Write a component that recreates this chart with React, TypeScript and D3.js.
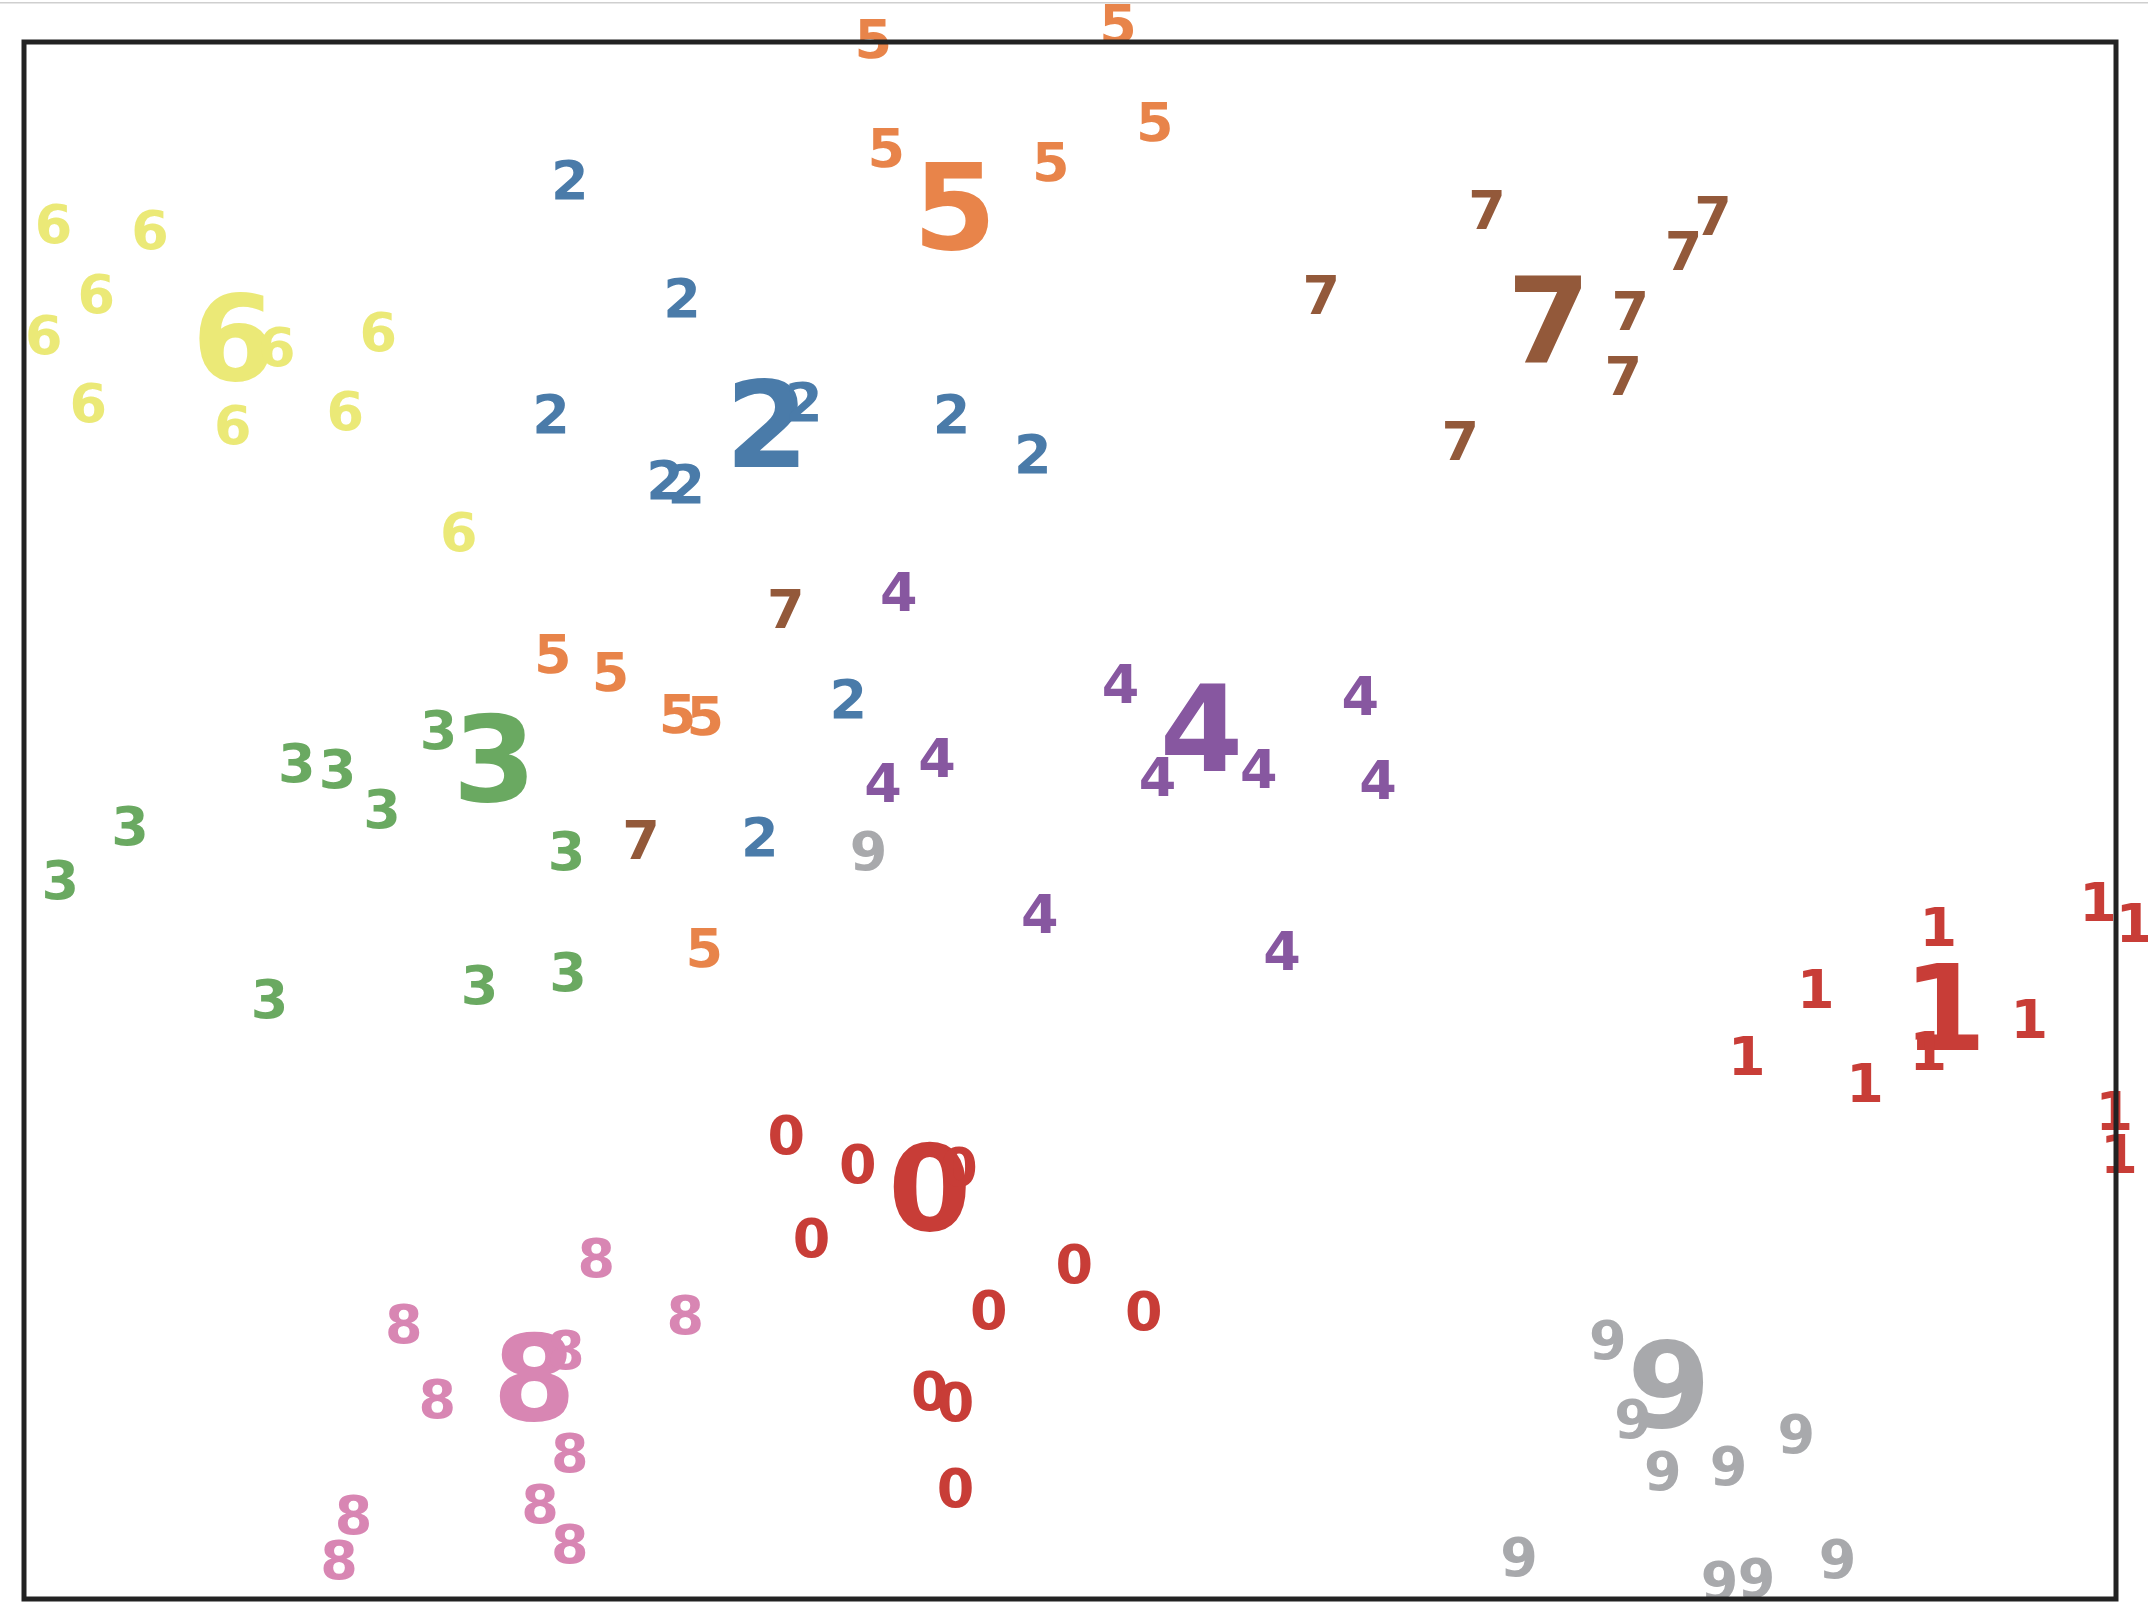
import React from 'react'
import * as d3 from 'd3'

// 2-D embedding of handwritten digits, coordinates scaled to [0, 1]
const digitClasses = ['0', '1', '2', '3', '4', '5', '6', '7', '8', '9']
const classColors = ['#c83d37', '#c83d37', '#4a7ba9', '#6aa961', '#8757a0', '#e8844a', '#ebe977', '#93593a', '#d886b3', '#a8a9ac']

const zeros = [[0.3644, 0.2981], [0.3986, 0.2799], [0.4469, 0.2777], [0.3764, 0.2324], [0.5021, 0.2152], [0.4612, 0.1861], [0.5353, 0.1852], [0.4330, 0.1338], [0.4453, 0.1268], [0.4453, 0.0718]]
const ones = [[0.9914, 0.4479], [1.0089, 0.4343], [0.9150, 0.4321], [0.8565, 0.3919], [0.9586, 0.3726], [0.9103, 0.3521], [0.8235, 0.3489], [0.8800, 0.3315], [0.9992, 0.3135], [1.0014, 0.2858]]
const twos = [[0.2609, 0.9117], [0.3146, 0.8361], [0.2519, 0.7616], [0.3727, 0.7690], [0.3064, 0.7187], [0.3166, 0.7162], [0.4434, 0.7616], [0.4822, 0.7359], [0.3940, 0.5786], [0.3517, 0.4897]]
const threes = [[0.1981, 0.5585], [0.1304, 0.5369], [0.1499, 0.5333], [0.1711, 0.5074], [0.0507, 0.4965], [0.0174, 0.4622], [0.2593, 0.4806], [0.1174, 0.3856], [0.2177, 0.3944], [0.2600, 0.4029]]
const fours = [[0.4181, 0.6469], [0.5242, 0.5880], [0.6388, 0.5801], [0.4364, 0.5405], [0.4106, 0.5241], [0.5419, 0.5281], [0.5903, 0.5334], [0.6473, 0.5264], [0.4855, 0.4402], [0.6014, 0.4164]]
const fives = [[0.406, 1.002], [0.523, 1.012], [0.5405, 0.9487], [0.4122, 0.9320], [0.4908, 0.9232], [0.2528, 0.6073], [0.2804, 0.5958], [0.3124, 0.5685], [0.3257, 0.5671], [0.3252, 0.4186]]
const sixes = [[0.0141, 0.8836], [0.0602, 0.8797], [0.0346, 0.8386], [0.0094, 0.8119], [0.1208, 0.8043], [0.1694, 0.8140], [0.0307, 0.7686], [0.0998, 0.7541], [0.1536, 0.7631], [0.2078, 0.6855]]
const sevens = [[0.6993, 0.8922], [0.8074, 0.8885], [0.7933, 0.8659], [0.6201, 0.8376], [0.7678, 0.8278], [0.7645, 0.7855], [0.6866, 0.7441], [0.3641, 0.6359], [0.2950, 0.4877]]
const eights = [[0.2736, 0.2195], [0.1816, 0.1771], [0.3161, 0.1826], [0.2590, 0.1599], [0.1976, 0.1285], [0.2609, 0.0941], [0.1575, 0.0545], [0.2467, 0.0615], [0.2609, 0.0355], [0.1506, 0.0256]]
const nines = [[0.4037, 0.4806], [0.7571, 0.1665], [0.7691, 0.1159], [0.7834, 0.0827], [0.8148, 0.0859], [0.8472, 0.1065], [0.7147, 0.0275], [0.8105, 0.0116], [0.8282, 0.0138], [0.8669, 0.0258]]

// class centres, drawn large
const centroids = [[0.4330, 0.2645], [0.9181, 0.3806], [0.3552, 0.7551], [0.2249, 0.5400], [0.5628, 0.5595], [0.4449, 0.8946], [0.1003, 0.8107], [0.7288, 0.8217], [0.2439, 0.1428], [0.7863, 0.1381]]

const groups = [zeros, ones, twos, threes, fours, fives, sixes, sevens, eights, nines]

const App = () => {
  const width = 2148, height = 1622
  const margin = { left: 24, right: 32, top: 42, bottom: 23 }

  const x = d3.scaleLinear().domain([0, 1]).range([margin.left, width - margin.right])
  const y = d3.scaleLinear().domain([0, 1]).range([height - margin.bottom, margin.top])
  const color = d3.scaleOrdinal<string, string>().domain(digitClasses).range(classColors)

  const samples = groups.flatMap((pts, i) => pts.map(p => ({ label: digitClasses[i], x: p[0], y: p[1] })))
  const centres = centroids.map((p, i) => ({ label: digitClasses[i], x: p[0], y: p[1] }))

  return (
    <div style={{ position: 'absolute', left: 0, top: 0 }}>
      <svg width={width} height={height} style={{ display: 'block', background: '#fff' }}>
        <line x1={0} x2={width} y1={2.7} y2={2.7} stroke="#cfcfcf" strokeWidth={1.5} />
        <g fontFamily="'DejaVu Sans', sans-serif" fontWeight="bold" textAnchor="middle">
          {centres.map((d, i) => (
            <text key={'c' + i} x={x(d.x)} y={y(d.y)} dy="0.36em" fontSize={120} fill={color(d.label)}>
              {d.label}
            </text>
          ))}
          {samples.map((d, i) => (
            <text key={i} x={x(d.x)} y={y(d.y)} dy="0.36em" fontSize={54} fill={color(d.label)}>
              {d.label}
            </text>
          ))}
        </g>
        <rect x={x(0)} y={y(1)} width={x(1) - x(0)} height={y(0) - y(1)}
          fill="none" stroke="#222" strokeWidth={5} />
      </svg>
    </div>
  )
}

export default App
